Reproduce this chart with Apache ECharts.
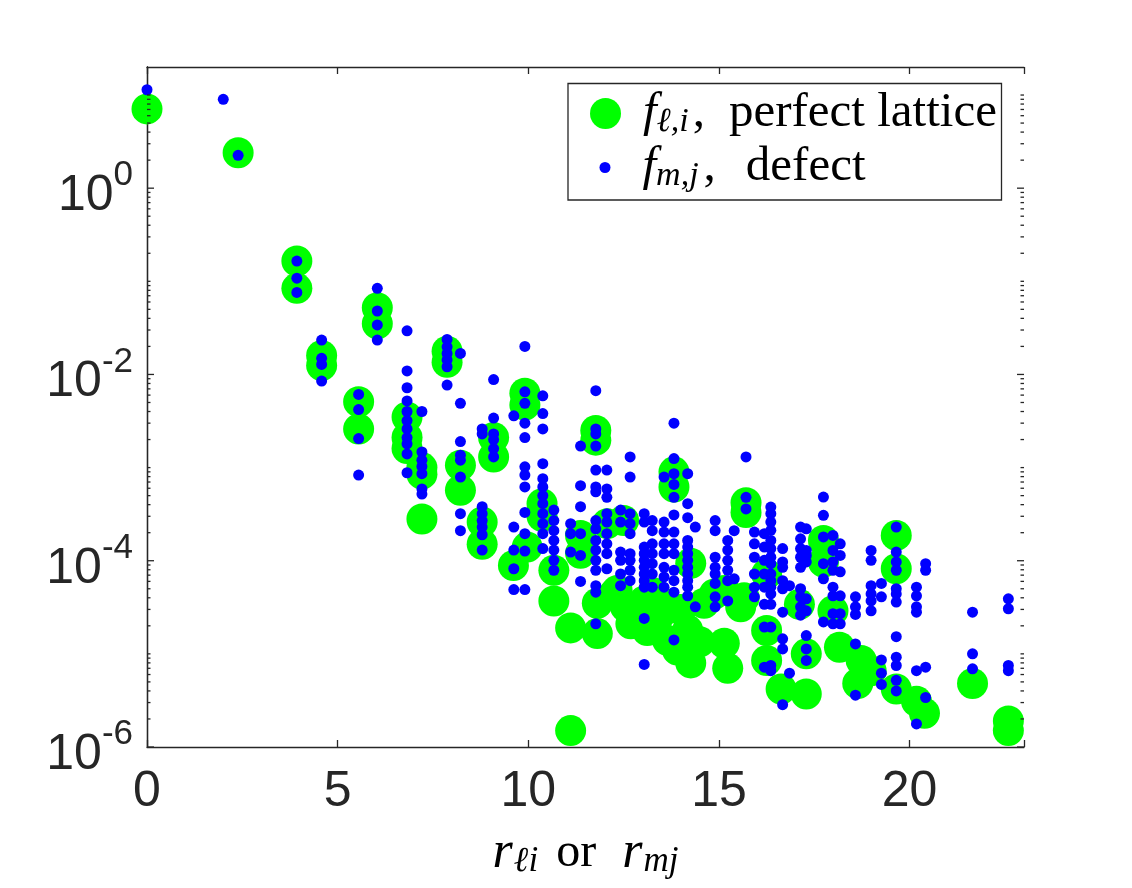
<!DOCTYPE html>
<html>
<head>
<meta charset="utf-8">
<title>f vs r</title>
<script src="https://cdn.jsdelivr.net/npm/echarts@6/dist/echarts.min.js"></script>
<style>
  html, body { margin: 0; padding: 0; background: #fff; }
  #chart { width: 1132px; height: 888px; }
</style>
</head>
<body>
<div id="chart"></div>
<script>
// perfect lattice coefficients f_{l,i} vs r_{li}
const latticePoints = [
  [0, 7.1], [2.39, 2.4],
  [3.93, 0.165], [3.93, 0.084],
  [4.58, 0.016], [4.58, 0.0125],
  [5.55, 0.0051], [5.55, 0.0026],
  [6.04, 0.052], [6.04, 0.035],
  [6.82, 0.0035], [6.82, 0.0021], [6.82, 0.0016],
  [7.21, 0.001], [7.21, 0.00085], [7.21, 0.00028],
  [7.87, 0.0178], [7.87, 0.0135],
  [8.22, 0.00106], [8.22, 0.00057],
  [8.79, 0.00026], [8.79, 0.00015],
  [9.09, 0.0021], [9.09, 0.0013],
  [9.61, 0.000089], [9.91, 0.0063], [9.91, 0.0047], [9.97, 0.00014],
  [10.36, 0.00041], [10.36, 0.0003], [10.67, 0.000079], [10.67, 0.000037],
  [11.11, 0.000019], [11.11, 0.0000015], [11.37, 0.000187], [11.37, 0.00012],
  [11.77, 0.0025], [11.77, 0.00197], [11.81, 0.000035], [11.81, 0.0000165],
  [12.07, 0.00025], [12.25, 0.000044], [12.33, 0.000048], [12.5, 0.00027],
  [12.55, 0.000032], [12.69, 0.000021], [12.77, 0.000029], [13.04, 0.000037],
  [13.12, 0.0000178], [13.3, 0.000045], [13.47, 0.000027], [13.56, 0.000035],
  [13.65, 0.000014], [13.91, 0.000011], [14.0, 0.00003],
  [13.82, 0.0009], [13.82, 0.00062], [14.18, 0.000018], [14.26, 0.000008],
  [14.26, 0.000094], [14.5, 0.0000135], [14.61, 0.000035], [14.88, 0.000044],
  [15.14, 0.000048], [15.14, 0.000013], [15.23, 0.000007], [15.57, 0.000032],
  [15.66, 0.00004], [15.71, 0.00042], [15.71, 0.00033],
  [16.25, 0.000072], [16.25, 0.0000178], [16.25, 0.0000085], [16.63, 0.0000042],
  [17.11, 0.000034], [17.29, 0.00001], [17.29, 0.0000037],
  [17.74, 0.000165], [17.74, 0.000097], [17.99, 0.000029], [18.16, 0.0000118],
  [18.64, 0.0000048], [18.73, 0.0000085], [18.99, 0.0000066],
  [19.65, 0.000187], [19.65, 0.000082], [19.65, 0.0000042],
  [20.18, 0.0000031], [20.39, 0.0000023], [21.65, 0.0000048],
  [22.59, 0.0000019], [22.59, 0.0000015],
];

// defect coefficients f_{m,j} vs r_{mj}
const defectPoints = [
  [0, 11.4], [2.0, 9.0], [2.39, 2.25],
  [3.93, 0.165], [3.93, 0.108], [3.93, 0.076],
  [4.58, 0.0234], [4.58, 0.0149], [4.58, 0.0128], [4.58, 0.0085],
  [5.55, 0.0061], [5.55, 0.0042], [5.55, 0.00205], [5.55, 0.00083],
  [6.04, 0.084], [6.04, 0.048], [6.04, 0.034], [6.04, 0.0234],
  [6.82, 0.0294], [6.82, 0.0109], [6.82, 0.0072], [6.82, 0.0052], [6.82, 0.004],
  [6.82, 0.0032], [6.82, 0.0026], [6.82, 0.0021], [6.82, 0.0018], [6.82, 0.0014], [6.82, 0.00088],
  [7.21, 0.004], [7.21, 0.00147], [7.21, 0.0012], [7.21, 0.00103], [7.21, 0.00086], [7.21, 0.00059], [7.21, 0.00052],
  [7.87, 0.0238], [7.87, 0.0198], [7.87, 0.0168], [7.87, 0.0143], [7.87, 0.0121], [7.87, 0.0077],
  [8.22, 0.0168], [8.22, 0.0049], [8.22, 0.0019], [8.22, 0.00136], [8.22, 0.0012], [8.22, 0.00079], [8.22, 0.00032], [8.22, 0.00021],
  [8.79, 0.0026], [8.79, 0.0023], [8.79, 0.00038], [8.79, 0.00032], [8.79, 0.00027], [8.79, 0.00023], [8.79, 0.00019], [8.79, 0.00013],
  [9.09, 0.0088], [9.09, 0.0034], [9.09, 0.0023], [9.09, 0.002], [9.09, 0.0016], [9.09, 0.0013],
  [9.62, 0.0036], [9.62, 0.00023], [9.62, 0.00013], [9.62, 0.000082], [9.62, 0.000049],
  [9.91, 0.02], [9.91, 0.0065], [9.91, 0.0049], [9.91, 0.003], [9.91, 0.0021], [9.91, 0.00102],
  [9.91, 0.00083], [9.91, 0.00062], [9.91, 0.00033], [9.91, 0.000195], [9.91, 0.000127], [9.91, 0.000049],
  [10.38, 0.0059], [10.38, 0.0038], [10.38, 0.0026], [10.38, 0.0011], [10.38, 0.00076], [10.38, 0.00062],
  [10.38, 0.0005], [10.38, 0.00041], [10.38, 0.00032], [10.38, 0.00025], [10.38, 0.000195], [10.38, 0.000135],
  [10.67, 0.00035], [10.67, 0.00027], [10.67, 0.00021], [10.67, 0.000165], [10.67, 0.00013], [10.67, 0.000101], [10.67, 0.000079],
  [11.11, 0.00025], [11.11, 0.000195], [11.11, 0.000124],
  [11.37, 0.0017], [11.37, 0.00064], [11.37, 0.00038], [11.37, 0.000195], [11.37, 0.000114], [11.37, 0.00006],
  [11.77, 0.0067], [11.77, 0.0026], [11.77, 0.0023], [11.77, 0.0017], [11.77, 0.00094], [11.77, 0.00062],
  [11.77, 0.00055], [11.77, 0.00027], [11.77, 0.00022], [11.77, 0.000165], [11.77, 0.00013], [11.77, 0.000101],
  [11.77, 0.000079], [11.77, 0.000054], [11.77, 0.000046], [11.77, 0.000021],
  [12.06, 0.00094], [12.06, 0.00059], [12.06, 0.00048], [12.06, 0.00032], [12.06, 0.00026], [12.06, 0.000195],
  [12.06, 0.000152], [12.06, 0.000119], [12.06, 0.000082],
  [12.42, 0.00035], [12.42, 0.00026], [12.42, 0.000124], [12.42, 0.000101], [12.42, 0.000072], [12.42, 0.000054],
  [12.67, 0.0013], [12.67, 0.00079], [12.67, 0.00032], [12.67, 0.00025], [12.67, 0.000195], [12.67, 0.000119],
  [12.67, 0.000101], [12.67, 0.000079], [12.67, 0.000061],
  [13.04, 0.00032], [13.04, 0.00026], [13.04, 0.00014], [13.04, 0.000119], [13.04, 0.000101], [13.04, 0.000085],
  [13.04, 0.000072], [13.04, 0.000061], [13.04, 0.000052], [13.04, 0.000024], [13.04, 0.0000077],
  [13.25, 0.00027], [13.25, 0.00021], [13.25, 0.000152], [13.25, 0.000119], [13.25, 0.000093], [13.25, 0.000072], [13.25, 0.000052],
  [13.56, 0.00079], [13.56, 0.00026], [13.56, 0.000203], [13.56, 0.000152], [13.56, 0.000119], [13.56, 0.000085],
  [13.56, 0.000067], [13.56, 0.000052],
  [13.82, 0.003], [13.82, 0.00125], [13.82, 0.00086], [13.82, 0.00066], [13.82, 0.00048], [13.82, 0.00031],
  [13.82, 0.000203], [13.82, 0.000152], [13.82, 0.000119], [13.82, 0.000079], [13.82, 0.000061], [13.82, 0.000046], [13.82, 0.0000141],
  [14.18, 0.00086], [14.18, 0.00041], [14.18, 0.00029], [14.18, 0.000165], [14.18, 0.00014], [14.18, 0.000119],
  [14.18, 0.000101], [14.18, 0.000085], [14.18, 0.000072], [14.18, 0.000061], [14.18, 0.000052], [14.18, 0.000042],
  [14.38, 0.00023], [14.38, 0.000032],
  [14.9, 0.00027], [14.9, 0.00021], [14.9, 0.000109], [14.9, 0.000085], [14.9, 0.000072], [14.9, 0.000057],
  [14.9, 0.000041], [14.9, 0.000032],
  [15.23, 0.000165], [15.23, 0.00013], [15.23, 0.000101], [15.23, 0.000079], [15.23, 0.000061], [15.23, 0.000037],
  [15.4, 0.00021], [15.4, 0.000064],
  [15.71, 0.0013], [15.71, 0.00048], [15.71, 0.00036],
  [15.93, 0.000203], [15.93, 0.000152], [15.93, 0.000109], [15.93, 0.000072], [15.93, 0.000052], [15.93, 0.000041],
  [16.19, 0.000195], [16.19, 0.00014], [16.19, 0.000101], [16.19, 0.000072], [16.19, 0.000052], [16.19, 0.000034],
  [16.19, 0.0000194], [16.19, 0.0000072],
  [16.36, 0.000377], [16.36, 0.00032], [16.36, 0.00026], [16.36, 0.000212], [16.36, 0.000165], [16.36, 0.000135],
  [16.36, 0.000109], [16.36, 0.000093], [16.36, 0.000072], [16.36, 0.000061], [16.36, 0.000052], [16.36, 0.000044],
  [16.36, 0.000034], [16.36, 0.0000194], [16.36, 0.0000075], [16.36, 0.0000066],
  [16.67, 0.000135], [16.67, 0.000097], [16.67, 0.000085], [16.67, 0.000061], [16.67, 0.00005], [16.67, 0.000028],
  [16.67, 0.0000145], [16.67, 0.0000113], [16.67, 0.00000285],
  [16.85, 0.000054], [16.85, 0.0000062],
  [17.14, 0.00023], [17.14, 0.000172], [17.14, 0.000135], [17.14, 0.000109], [17.14, 0.000085], [17.14, 0.00005],
  [17.14, 0.000041], [17.14, 0.000032], [17.14, 0.000026],
  [17.29, 0.00022], [17.29, 0.000129], [17.29, 0.000114], [17.29, 0.000097], [17.29, 0.000039], [17.29, 0.000029],
  [17.29, 0.0000157], [17.29, 0.0000113], [17.29, 0.0000085],
  [17.74, 0.000483], [17.74, 0.000307], [17.74, 0.00018], [17.74, 0.000093], [17.74, 0.000064], [17.74, 0.000022],
  [17.99, 0.000187], [17.99, 0.000129], [17.99, 0.000097], [17.99, 0.000079], [17.99, 0.000052], [17.99, 0.000042],
  [17.99, 0.000027], [17.99, 0.000021],
  [18.18, 0.000152], [18.18, 0.000114], [18.18, 0.000076], [18.18, 0.000042], [18.18, 0.000027], [18.18, 0.000021],
  [18.58, 0.000041], [18.58, 0.000032], [18.58, 0.0000265], [18.58, 0.0000128], [18.58, 0.0000036],
  [18.99, 0.000129], [18.99, 0.000101], [18.99, 0.000054], [18.99, 0.000044], [18.99, 0.000037], [18.99, 0.000029],
  [19.26, 0.000057], [19.26, 0.000041], [19.26, 0.0000086], [19.26, 0.0000062], [19.26, 0.0000047],
  [19.65, 0.00023], [19.65, 0.000124], [19.65, 0.000097], [19.65, 0.000079], [19.65, 0.00005], [19.65, 0.000044],
  [19.65, 0.000036], [19.65, 0.0000153], [19.65, 0.0000092], [19.65, 0.0000075], [19.65, 0.0000052], [19.65, 0.000004],
  [20.18, 0.000052], [20.18, 0.000042], [20.18, 0.000032], [20.18, 0.000028], [20.18, 0.0000066], [20.18, 0.00000177],
  [20.42, 0.000093], [20.42, 0.000079], [20.42, 0.0000072], [20.42, 0.0000034],
  [21.65, 0.000028], [21.65, 0.00001], [21.65, 0.0000069],
  [22.59, 0.000039], [22.59, 0.0000305], [22.59, 0.0000075], [22.59, 0.0000066],
];

const xTicks = [0, 5, 10, 15, 20];
const yMajorTicks = [1e-6, 1e-4, 1e-2, 1];
const yMinorTicks = [
  2e-6, 3e-6, 4e-6, 5e-6, 6e-6, 7e-6, 8e-6, 9e-6,
  1e-5, 2e-5, 3e-5, 4e-5, 5e-5, 6e-5, 7e-5, 8e-5, 9e-5,
  2e-4, 3e-4, 4e-4, 5e-4, 6e-4, 7e-4, 8e-4, 9e-4,
  1e-3, 2e-3, 3e-3, 4e-3, 5e-3, 6e-3, 7e-3, 8e-3, 9e-3,
  2e-2, 3e-2, 4e-2, 5e-2, 6e-2, 7e-2, 8e-2, 9e-2,
  1e-1, 2e-1, 3e-1, 4e-1, 5e-1, 6e-1, 7e-1, 8e-1, 9e-1,
  2, 3, 4, 5, 6, 7, 8, 9, 10,
];

const latticeName = 'f_{l,i}, perfect lattice';
const defectName = 'f_{m,j}, defect';

const ink = '#262626';
const sansFont = '"Liberation Sans", Arial, Helvetica, sans-serif';
const serifFont = '"Liberation Serif", "DejaVu Serif", serif';

const chart = echarts.init(document.getElementById('chart'), null, { renderer: 'canvas' });

function tickRenderer(len) {
  return function (params, api) {
    const cs = params.coordSys;
    const y = api.coord([0, api.value(1)])[1];
    const style = { stroke: ink, lineWidth: 1.3 };
    return {
      type: 'group',
      children: [
        { type: 'line', shape: { x1: cs.x, y1: y, x2: cs.x + len, y2: y }, style },
        { type: 'line', shape: { x1: cs.x + cs.width - len, y1: y, x2: cs.x + cs.width, y2: y }, style },
      ],
    };
  };
}

// rich text styles for the legend entries (math italic f with subscript)
function legendRich(leftPad, subPad, commaPad) {
  return {
    f: { fontFamily: serifFont, fontStyle: 'italic', fontSize: 49, color: '#000', lineHeight: 52, padding: [0, 0, 0, leftPad] },
    sub: { fontFamily: serifFont, fontStyle: 'italic', fontSize: 34, color: '#000', lineHeight: 36, verticalAlign: 'bottom', padding: [0, subPad, 0, 0] },
    c: { fontFamily: serifFont, fontSize: 49, color: '#000', lineHeight: 52, padding: [0, commaPad, 0, 2] },
    t: { fontFamily: serifFont, fontSize: 49, color: '#000', lineHeight: 52 },
  };
}

const legendBase = {
  padding: 0,
  icon: 'circle',
  selectedMode: false,
  z: 10,
};

const option = {
  backgroundColor: '#fff',
  animation: false,
  grid: { left: 147, right: 108, top: 67, bottom: 141, containLabel: false },
  xAxis: [
    {
      type: 'value',
      min: 0,
      max: 23,
      interval: 5,
      position: 'bottom',
      splitLine: { show: false },
      axisLine: { lineStyle: { color: ink, width: 1.3 } },
      axisTick: { inside: true, length: 7, lineStyle: { color: ink, width: 1.3 } },
      axisLabel: {
        margin: 20,
        color: ink,
        fontFamily: sansFont,
        fontSize: 50,
        lineHeight: 50,
        formatter: (v) => (xTicks.includes(v) ? String(v) : ''),
      },
      name: '{r|r}{sub|ℓi}{t|or}{r|r}{sub|mj}',
      nameLocation: 'middle',
      nameGap: 80,
      nameTextStyle: {
        rich: {
          r: { fontFamily: serifFont, fontStyle: 'italic', fontSize: 52, color: '#000', lineHeight: 52 },
          sub: { fontFamily: serifFont, fontStyle: 'italic', fontSize: 35, color: '#000', lineHeight: 38, verticalAlign: 'bottom', padding: [0, 0, 0, 1] },
          t: { fontFamily: serifFont, fontSize: 48, color: '#000', lineHeight: 52, padding: [0, 26, 0, 18] },
        },
      },
    },
    {
      type: 'value',
      min: 0,
      max: 23,
      interval: 5,
      position: 'top',
      splitLine: { show: false },
      axisLine: { lineStyle: { color: ink, width: 1.3 } },
      axisTick: { inside: true, length: 7, lineStyle: { color: ink, width: 1.3 } },
      axisLabel: { show: false },
    },
  ],
  yAxis: [
    {
      type: 'log',
      logBase: 10,
      min: 1e-6,
      max: 20,
      position: 'left',
      splitLine: { show: false },
      axisLine: { show: true, lineStyle: { color: ink, width: 1.3 } },
      axisTick: { show: false },
      minorTick: { show: false },
      axisLabel: {
        margin: 14,
        color: ink,
        padding: [16, 0, 0, 0],
        formatter: (v) => {
          const e = Math.log10(v);
          const r = Math.round(e);
          if (Math.abs(e - r) > 1e-6 || r % 2 !== 0) return '';
          return '{b|10}{s|' + r + '}';
        },
        rich: {
          b: { fontFamily: sansFont, fontSize: 50, color: ink, lineHeight: 76 },
          s: { fontFamily: sansFont, fontSize: 35, color: ink, lineHeight: 35, verticalAlign: 'top' },
        },
      },
    },
    {
      type: 'log',
      logBase: 10,
      min: 1e-6,
      max: 20,
      position: 'right',
      splitLine: { show: false },
      axisLine: { show: true, lineStyle: { color: ink, width: 1.3 } },
      axisTick: { show: false },
      axisLabel: { show: false },
    },
  ],
  legend: [
    Object.assign({}, legendBase, {
      data: [{ name: latticeName }],
      left: 590,
      top: 89,
      itemWidth: 31,
      itemHeight: 31,
      formatter: () => '{f|f}{sub|ℓ,i}{c|,}{t|perfect lattice}',
      textStyle: { rich: legendRich(17, 2, 24) },
    }),
    Object.assign({}, legendBase, {
      data: [{ name: defectName }],
      left: 599.5,
      top: 143,
      itemWidth: 11,
      itemHeight: 11,
      formatter: () => '{f|f}{sub|m,j}{c|,}{t|defect}',
      textStyle: { rich: legendRich(27, 3, 30) },
    }),
  ],
  graphic: [
    {
      type: 'rect',
      z: 5,
      shape: { x: 568, y: 83.5, width: 433.5, height: 116.5 },
      style: { fill: '#fff', stroke: ink, lineWidth: 1.3 },
    },
  ],
  series: [
    {
      name: latticeName,
      type: 'scatter',
      data: latticePoints,
      symbol: 'circle',
      symbolSize: 31,
      itemStyle: { color: '#00ff00', opacity: 1 },
      emphasis: { disabled: true },
      z: 2,
    },
    {
      name: defectName,
      type: 'scatter',
      data: defectPoints,
      symbol: 'circle',
      symbolSize: 11,
      itemStyle: { color: '#0000ff', opacity: 1 },
      emphasis: { disabled: true },
      z: 3,
    },
    {
      type: 'custom',
      silent: true,
      data: yMajorTicks.map((v) => [0, v]),
      renderItem: tickRenderer(7),
      z: 4,
    },
    {
      type: 'custom',
      silent: true,
      data: yMinorTicks.map((v) => [0, v]),
      renderItem: tickRenderer(3.5),
      z: 4,
    },
  ],
};

chart.setOption(option);
</script>
</body>
</html>
